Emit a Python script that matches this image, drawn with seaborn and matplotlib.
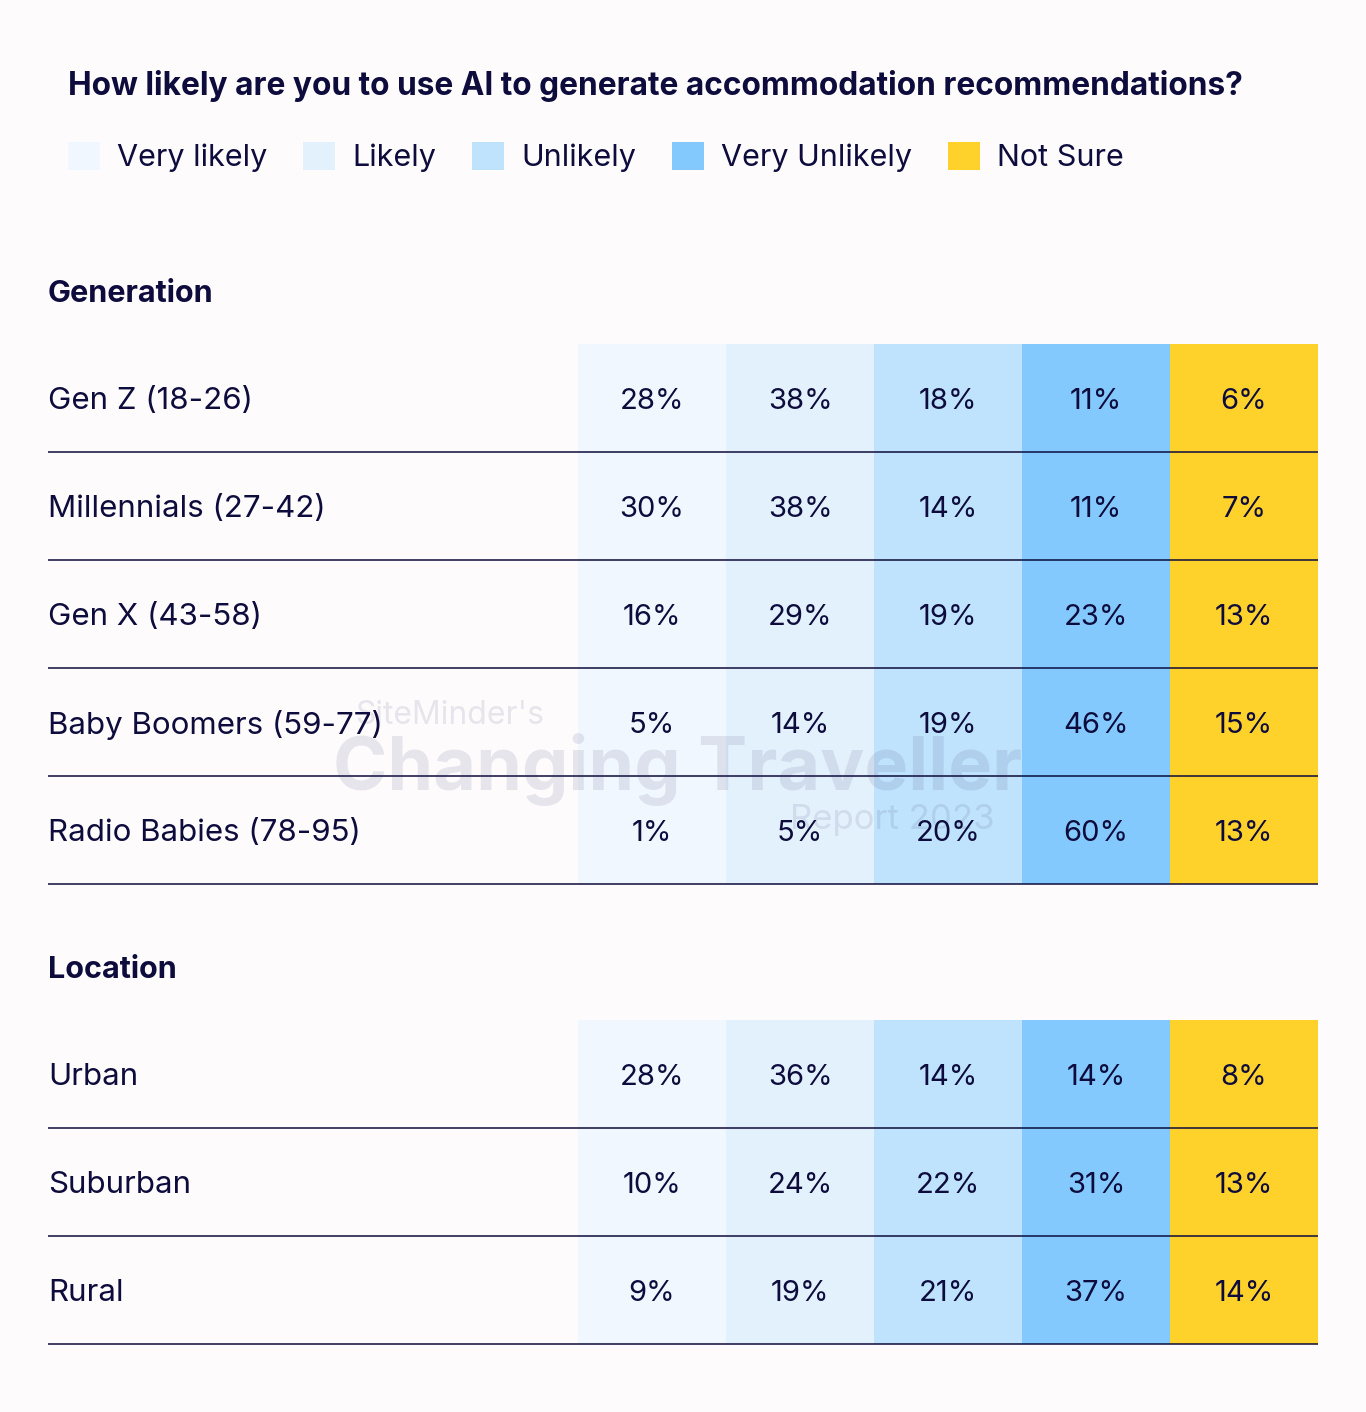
import numpy as np
import seaborn as sns
import matplotlib.pyplot as plt
from matplotlib.colors import ListedColormap
from matplotlib.patches import Patch

# answer categories and their colours
categories = ['Very likely', 'Likely', 'Unlikely', 'Very Unlikely', 'Not Sure']
cat_colors = ['#F1F7FE', '#E3F1FD', '#BFE3FC', '#84C9FD', '#FED22A']

gen_labels = ['Gen Z (18-26)', 'Millennials (27-42)', 'Gen X (43-58)',
              'Baby Boomers (59-77)', 'Radio Babies (78-95)']
gen_values = [[28, 38, 18, 11, 6],
              [30, 38, 14, 11, 7],
              [16, 29, 19, 23, 13],
              [5, 14, 19, 46, 15],
              [1, 5, 20, 60, 13]]

loc_labels = ['Urban', 'Suburban', 'Rural']
loc_values = [[28, 36, 14, 14, 8],
              [10, 24, 22, 31, 13],
              [9, 19, 21, 37, 14]]

title = 'How likely are you to use AI to generate accommodation recommendations?'

navy = '#0D0C3C'
bg = '#FDFBFC'

sns.set_theme(style='white')
plt.rcParams['font.family'] = ['Inter', 'DejaVu Sans']

W, H = 1366, 1412
fig = plt.figure(figsize=(W / 100, H / 100), dpi=100, facecolor=bg)

cmap = ListedColormap(cat_colors)
xmin = -(578 - 48) / 148


def draw_table(top, labels, values):
    n = len(labels)
    ax = fig.add_axes([48 / W, 1 - (top + n * 108) / H, 1270 / W, n * 108 / H])
    ax.set_facecolor(bg)
    idx = np.tile(np.arange(len(categories)), (n, 1))
    annot = np.array([[f'{v}%' for v in row] for row in values])
    sns.heatmap(idx, ax=ax, cmap=cmap, vmin=-0.5, vmax=4.5, cbar=False,
                annot=annot, fmt='', xticklabels=False, yticklabels=False,
                annot_kws={'fontsize': 21, 'color': navy})
    for t in ax.texts:
        x, y = t.get_position()
        t.set_position((x, y + 0.03))
    ax.set_xlim(xmin, 5)
    ax.set_ylim(n, 0)
    ax.hlines(np.arange(1, n + 1), xmin, 5, color=navy, lw=1.1, clip_on=False)
    for i, lab in enumerate(labels):
        ax.text(xmin, i + 0.53, lab, ha='left', va='center', fontsize=22.5, color=navy)
    ax.set_axis_off()
    return ax


draw_table(344, gen_labels, gen_values)
draw_table(1020, loc_labels, loc_values)

fig.text(68 / W, 1 - 86 / H, title, fontsize=22.8, fontweight='bold', color=navy,
         ha='left', va='center')
fig.text(48 / W, 1 - 294 / H, 'Generation', fontsize=22, fontweight='bold',
         color=navy, ha='left', va='center')
fig.text(48 / W, 1 - 970 / H, 'Location', fontsize=22, fontweight='bold',
         color=navy, ha='left', va='center')

handles = [Patch(facecolor=c, edgecolor='none', label=l) for c, l in zip(cat_colors, categories)]
leg = fig.legend(handles=handles, loc='center left', bbox_to_anchor=(68 / W, 1 - 157 / H),
                 ncol=5, frameon=False, fontsize=22, handlelength=1.05, handleheight=1.05,
                 handletextpad=0.55, columnspacing=1.18, borderpad=0, borderaxespad=0)
for t in leg.get_texts():
    t.set_color(navy)

# faint watermark
wm = '#2A2860'
fig.text(355 / W, 1 - 715 / H, "SiteMinder's", fontsize=23, color=wm, alpha=0.1,
         ha='left', va='center')
fig.text(333 / W, 1 - 770 / H, 'Changing Traveller', fontsize=53, fontweight='bold',
         color=wm, alpha=0.1, ha='left', va='center')
fig.text(995 / W, 1 - 820 / H, 'Report 2023', fontsize=25, color=wm, alpha=0.1,
         ha='right', va='center')

fig.savefig('out.png', dpi=100, facecolor=bg)
